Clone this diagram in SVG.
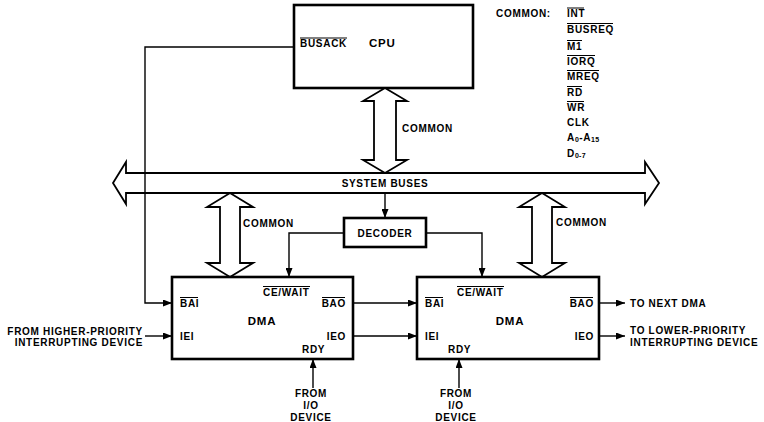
<svg xmlns="http://www.w3.org/2000/svg" width="764" height="422" viewBox="0 0 764 422">
<defs>
<style>
text{font-family:"Liberation Sans",Arial,sans-serif;font-weight:bold;font-size:10px;letter-spacing:0.7px;fill:#000}
.big{font-size:11.5px}
.box{fill:#fff;stroke:#000;stroke-width:2.6}
.hollow{fill:#fff;stroke:#000;stroke-width:1.8;stroke-linejoin:miter}
.wire{fill:none;stroke:#000;stroke-width:1.4}
.bar{stroke:#000;stroke-width:1}
.m{text-anchor:middle}
.e{text-anchor:end}
.sub{font-size:7px;letter-spacing:0.3px}
</style>
<marker id="ah" markerWidth="9" markerHeight="7" refX="9" refY="3.5" orient="auto" markerUnits="userSpaceOnUse">
<path d="M0,0 L9,3.5 L0,7 Z" fill="#000"/>
</marker>
</defs>
<rect width="764" height="422" fill="#fff"/>

<g id="bus">
<polygon class="hollow" points="113,183 126,162 126,173 645,173 645,162 659,183 645,204 645,193 126,193 126,204"/>
<text class="m" x="385" y="186.5">SYSTEM BUSES</text>
</g>

<g id="cpu">
<rect class="box" x="294" y="5" width="179" height="83"/>
<text x="300" y="47">BUSACK</text>
<line class="bar" x1="300" y1="38" x2="347" y2="38"/>
<text class="big" x="369" y="47">CPU</text>
</g>

<g id="common-list">
<text x="496" y="17">COMMON:</text>
<text x="567" y="17">INT</text><line class="bar" x1="567" y1="8" x2="584" y2="8"/>
<text x="567" y="32.5">BUSREQ</text><line class="bar" x1="567" y1="23.5" x2="613" y2="23.5"/>
<text x="567" y="49.5">M1</text><line class="bar" x1="567" y1="40.5" x2="582" y2="40.5"/>
<text x="567" y="64.5">IORQ</text><line class="bar" x1="567" y1="55.5" x2="595" y2="55.5"/>
<text x="567" y="79.5">MREQ</text><line class="bar" x1="567" y1="70.5" x2="599" y2="70.5"/>
<text x="567" y="95.5">RD</text><line class="bar" x1="567" y1="86.5" x2="582" y2="86.5"/>
<text x="567" y="110.5">WR</text><line class="bar" x1="567" y1="101.5" x2="584" y2="101.5"/>
<text x="567" y="125.5">CLK</text>
<text x="567" y="140.5">A<tspan class="sub" dy="1.5">0</tspan><tspan dy="-1.5">-A</tspan><tspan class="sub" dy="1.5">15</tspan></text>
<text x="567" y="156.5">D<tspan class="sub" dy="1.5">0-7</tspan></text>
</g>

<g id="cpu-bus-arrow">
<polygon class="hollow" points="385,88 407,101 396,101 396,160 407,160 385,173 363,160 374,160 374,101 363,101"/>
<text x="402" y="131.5">COMMON</text>
</g>

<g id="left-common-arrow">
<polygon class="hollow" points="230,193 253,207 240,207 240,263 253,263 230,277 207,263 220,263 220,207 207,207"/>
<text x="243" y="226.5">COMMON</text>
</g>

<g id="right-common-arrow">
<polygon class="hollow" points="542,193 565,207 552,207 552,263 565,263 542,277 519,263 532,263 532,207 519,207"/>
<text x="556" y="225.5">COMMON</text>
</g>

<g id="decoder">
<rect class="box" x="344" y="218" width="82" height="29"/>
<text class="m" x="385" y="236.5">DECODER</text>
</g>

<g id="dma1">
<rect class="box" x="172" y="277" width="181" height="82"/>
<text x="180" y="306.5">BAI</text><line class="bar" x1="180" y1="297.5" x2="198" y2="297.5"/>
<text x="263" y="295.5">CE/WAIT</text><line class="bar" x1="263" y1="286.5" x2="310" y2="286.5"/>
<text class="e" x="346" y="306.5">BAO</text><line class="bar" x1="322" y1="297.5" x2="345" y2="297.5"/>
<text class="big m" x="262" y="325">DMA</text>
<text x="180" y="339.5">IEI</text>
<text class="e" x="346" y="339.5">IEO</text>
<text x="302" y="352.5">RDY</text>
</g>

<g id="dma2">
<rect class="box" x="417" y="277" width="182" height="82"/>
<text x="425" y="306.5">BAI</text><line class="bar" x1="425" y1="297.5" x2="443" y2="297.5"/>
<text x="457" y="295.5">CE/WAIT</text><line class="bar" x1="457" y1="286.5" x2="504" y2="286.5"/>
<text class="e" x="594" y="306.5">BAO</text><line class="bar" x1="570" y1="297.5" x2="593" y2="297.5"/>
<text class="big m" x="510" y="325">DMA</text>
<text x="425" y="339.5">IEI</text>
<text class="e" x="594" y="339.5">IEO</text>
<text x="448" y="352.5">RDY</text>
</g>

<g id="labels">
<text class="e" x="143" y="334.5">FROM HIGHER-PRIORITY</text>
<text class="e" x="143" y="345.5">INTERRUPTING DEVICE</text>
<text class="m" x="311" y="396.5">FROM</text>
<text class="m" x="311" y="408.5">I/O</text>
<text class="m" x="311" y="420.5">DEVICE</text>
<text class="m" x="456" y="396.5">FROM</text>
<text class="m" x="456" y="408.5">I/O</text>
<text class="m" x="456" y="420.5">DEVICE</text>
<text x="630" y="306.5">TO NEXT DMA</text>
<text x="630" y="333.5">TO LOWER-PRIORITY</text>
<text x="630" y="345.5">INTERRUPTING DEVICE</text>
</g>

<g id="connectors">
<path class="wire" d="M294,47 H145 V303 H172" marker-end="url(#ah)"/>
<path class="wire" d="M145,336 H172" marker-end="url(#ah)"/>
<path class="wire" d="M313,388 V359" marker-end="url(#ah)"/>
<path class="wire" d="M353,303 H417" marker-end="url(#ah)"/>
<path class="wire" d="M353,336 H417" marker-end="url(#ah)"/>
<path class="wire" d="M599,303 H625" marker-end="url(#ah)"/>
<path class="wire" d="M599,336 H625" marker-end="url(#ah)"/>
<path class="wire" d="M459,388 V359" marker-end="url(#ah)"/>
<path class="wire" d="M385,193 V218" marker-end="url(#ah)"/>
<path class="wire" d="M344,233 H289 V277" marker-end="url(#ah)"/>
<path class="wire" d="M426,233 H482 V277" marker-end="url(#ah)"/>
</g>
</svg>
